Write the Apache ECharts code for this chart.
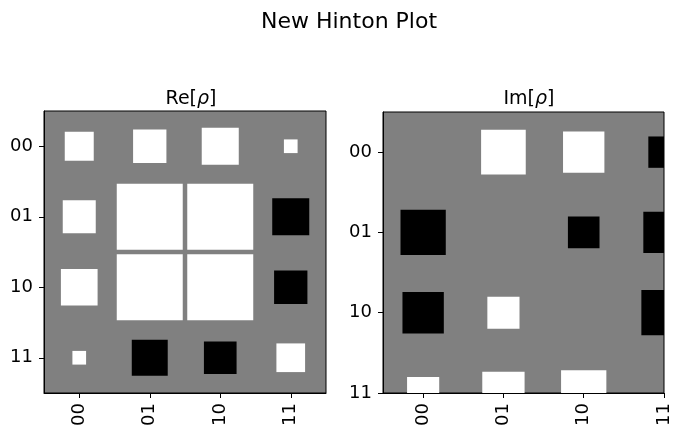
<!DOCTYPE html>
<html>
<head>
<meta charset="utf-8">
<script src="https://cdn.jsdelivr.net/npm/echarts@6/dist/echarts.min.js"></script>
<style>html,body{margin:0;padding:0;background:#fff}#c{width:683px;height:437px}</style>
</head>
<body>
<div id="c"></div>
<script>
// Basis state labels
const labels = ['00', '01', '10', '11'];
// Real part (rows = y, cols = x), relative magnitudes read from square areas
const reRows = [
  [0.193, 0.255, 0.315, 0.043],
  [0.250, 1.000, 1.000, -0.315],
  [0.309, 1.000, 1.000, -0.255],
  [0.043, -0.297, -0.245, 0.189]
];
// Imaginary part
const imRows = [
  [0.000, 0.353, 0.303, -0.174],
  [-0.363, 0.000, -0.177, -0.303],
  [-0.303, 0.183, 0.000, -0.363],
  [0.183, 0.317, 0.363, 0.000]
];
const SIDE = 0.936;
const GRAY = '#808080';
const FONT = 'DejaVu Sans';

function toData(rows) {
  const out = [];
  rows.forEach((r, i) => r.forEach((v, j) => { if (v !== 0) out.push([j, i, v]); }));
  return out;
}

function renderItem(params, api) {
  const x = api.value(0), y = api.value(1), v = api.value(2);
  const side = SIDE * Math.sqrt(Math.abs(v));
  const c = api.coord([x, y]);
  const s = api.size([side, side]);
  const cs = params.coordSys;
  const rect = echarts.graphic.clipRectByRect(
    { x: c[0] - s[0] / 2, y: c[1] - s[1] / 2, width: s[0], height: s[1] },
    { x: cs.x, y: cs.y, width: cs.width, height: cs.height }
  );
  if (!rect) return null;
  return { type: 'rect', shape: rect, style: { fill: v > 0 ? '#ffffff' : '#000000' } };
}

const ticks = [0, 1, 2, 3];
function xAxis(idx, max) {
  return {
    gridIndex: idx, type: 'value', min: -0.5, max: max,
    splitLine: { show: false },
    axisLine: { show: true, onZero: false, lineStyle: { color: '#000', width: 1 } },
    axisTick: { show: true, customValues: ticks, length: 5, lineStyle: { color: '#000' } },
    axisLabel: { customValues: ticks, rotate: 90, margin: 10, color: '#000', fontSize: 18, fontFamily: FONT,
      formatter: v => labels[Math.round(v)] }
  };
}
function yAxis(idx, max) {
  return {
    gridIndex: idx, type: 'value', min: -0.5, max: max, inverse: true,
    splitLine: { show: false },
    axisLine: { show: true, onZero: false, lineStyle: { color: '#000', width: 1 } },
    axisTick: { show: true, customValues: ticks, length: 5, lineStyle: { color: '#000' } },
    axisLabel: { customValues: ticks, margin: 11, color: '#000', fontSize: 18, fontFamily: FONT,
      formatter: v => labels[Math.round(v)] }
  };
}

const chart = echarts.init(document.getElementById('c'), null, { renderer: 'canvas' });
chart.setOption({
  animation: false,
  title: [
    { text: 'New Hinton Plot', left: 344, top: 6, textAlign: 'center',
      textStyle: { fontSize: 22, fontWeight: 'normal', color: '#000', fontFamily: FONT } },
    { text: 'Re[{i|ρ}]', left: 186, top: 85, textAlign: 'center',
      textStyle: { fontSize: 19, fontWeight: 'normal', color: '#000', fontFamily: FONT,
        rich: { i: { fontSize: 19, fontStyle: 'italic', fontFamily: FONT, color: '#000' } } } },
    { text: 'Im[{i|ρ}]', left: 524, top: 85, textAlign: 'center',
      textStyle: { fontSize: 19, fontWeight: 'normal', color: '#000', fontFamily: FONT,
        rich: { i: { fontSize: 19, fontStyle: 'italic', fontFamily: FONT, color: '#000' } } } }
  ],
  grid: [
    { left: 44, top: 111, width: 282, height: 282, show: true, backgroundColor: GRAY, borderColor: '#000', borderWidth: 1 },
    { left: 383, top: 112, width: 281, height: 281, show: true, backgroundColor: GRAY, borderColor: '#000', borderWidth: 1 }
  ],
  xAxis: [xAxis(0, 3.5), xAxis(1, 3)],
  yAxis: [yAxis(0, 3.5), yAxis(1, 3)],
  series: [
    { type: 'custom', xAxisIndex: 0, yAxisIndex: 0, renderItem: renderItem, data: toData(reRows), encode: { x: 0, y: 1 } },
    { type: 'custom', xAxisIndex: 1, yAxisIndex: 1, renderItem: renderItem, data: toData(imRows), encode: { x: 0, y: 1 } }
  ]
});
</script>
</body>
</html>
